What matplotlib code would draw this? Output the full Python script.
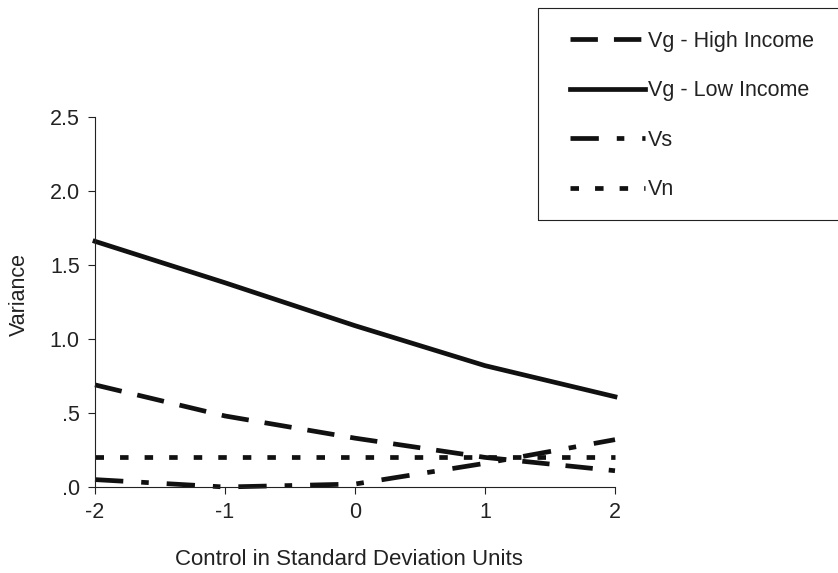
import numpy as np
import matplotlib.pyplot as plt
from matplotlib.patches import Rectangle

# data
x = [-2, -1, 0, 1, 2]
vg_high = [0.69, 0.48, 0.33, 0.20, 0.11]
vg_low = [1.66, 1.38, 1.09, 0.82, 0.61]
vs = [0.05, 0.0, 0.02, 0.16, 0.32]
vn = [0.20, 0.20, 0.20, 0.20, 0.20]

xticks = [-2, -1, 0, 1, 2]
xtick_labels = ['-2', '-1', '0', '1', '2']
yticks = [0, 0.5, 1.0, 1.5, 2.0, 2.5]
ytick_labels = ['.0', '.5', '1.0', '1.5', '2.0', '2.5']

plt.rcParams['font.family'] = ['Liberation Sans', 'DejaVu Sans']
fs = 15.5
lw = 3.4
col = '#111111'

fig = plt.figure(figsize=(8.38, 5.73), dpi=100)
ax = fig.add_axes([95/838, 1-487/573, 520/838, 370/573])

ax.plot(x, vg_high, color=col, lw=lw, dashes=(5.8, 3.4), label='Vg - High Income', clip_on=False)
ax.plot(x, vg_low, color=col, lw=lw, label='Vg - Low Income', clip_on=False)
ax.plot(x, vs, color=col, lw=lw, dashes=(6.0, 3.8, 1.6, 3.8), label='Vs', clip_on=False)
ax.plot(x, vn, color=col, lw=lw, dashes=(1.8, 3.4), label='Vn', clip_on=False)

ax.set_xlim(-2, 2)
ax.set_ylim(0, 2.5)
ax.set_xticks(xticks)
ax.set_xticklabels(xtick_labels)
ax.set_yticks(yticks)
ax.set_yticklabels(ytick_labels)
ax.tick_params(labelsize=fs, length=5, width=0.8, pad=6, colors='#222222')

for s in ['top', 'right']:
    ax.spines[s].set_visible(False)
for s in ['left', 'bottom']:
    ax.spines[s].set_linewidth(0.8)
    ax.spines[s].set_color('#222222')

ax.set_xlabel('Control in Standard Deviation Units', fontsize=16, va='center', color='#222222')
ax.xaxis.set_label_coords(0.488, -0.197)
ax.set_ylabel('Variance', fontsize=fs, va='center', color='#222222')
ax.yaxis.set_label_coords(-0.145, 0.519)

# legend box
fig.patches.append(Rectangle((538/838, 1-220/573), 320/838, 212/573, transform=fig.transFigure,
                             fill=False, edgecolor='#222222', lw=0.8))
fig.legend(loc='upper left', bbox_to_anchor=(570/838, 1-31/573), frameon=False,
           fontsize=fs, handlelength=3.5, handletextpad=0.1, labelspacing=1.32,
           borderpad=0, borderaxespad=0, labelcolor='#222222')

plt.savefig('out.png', dpi=100)
